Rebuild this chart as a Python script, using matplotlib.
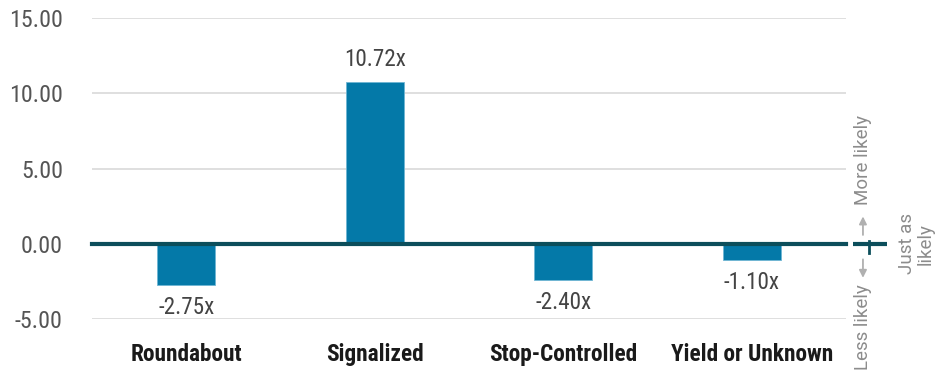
import matplotlib
matplotlib.use('Agg')
import matplotlib.pyplot as plt
from matplotlib.font_manager import fontManager

# crash-type odds by intersection control
categories = ['Roundabout', 'Signalized', 'Stop-Controlled', 'Yield or Unknown']
values = [-2.75, 10.72, -2.40, -1.10]
yticks = [-5, 0, 5, 10, 15]

# prefer a narrow face if one is around, else plain Roboto
installed = sorted({f.name for f in fontManager.ttflist})
narrow = [n for n in installed if 'Condensed' in n or 'Narrow' in n]
narrow.sort(key=lambda n: (0 if 'Roboto' in n else 1 if 'Liberation' in n else 2, n))
main_font = narrow[:1] + ['Roboto', 'DejaVu Sans']
side_font = ['Roboto', 'DejaVu Sans']
scale = 1.15 if narrow else 1.0

BAR = '#0479a8'
ZERO = '#0c4e5b'
GRID = '#d9d9d9'
SIDE = '#8c8c8c'

fig = plt.figure(figsize=(9.44, 3.76), dpi=100)
ax = fig.add_axes([92 / 944, 1 - 319 / 376, 754 / 944, 301 / 376])

x = range(len(categories))
ax.bar(x, values, width=0.31, color=BAR, edgecolor='#6fb6d3', linewidth=0.6, zorder=2)

for xi, v in zip(x, values):
    up = v >= 0
    ax.annotate(f'{v:.2f}x', (xi, v), xytext=(0, 8 if up else -8), textcoords='offset points',
                ha='center', va='bottom' if up else 'top', fontsize=14.5 * scale,
                color='#444444', family=main_font)

ax.set_xlim(-0.5, len(categories) - 0.5)
ax.set_ylim(-5, 15)
ax.set_yticks(yticks)
ax.set_yticklabels([f'{t:.2f}' for t in yticks], family=main_font, fontsize=15 * scale,
                   color='#555555')
ax.set_xticks(list(x))
ax.set_xticklabels(categories, family=main_font, fontsize=14.6 * scale, color='#1a1a1a',
                   fontweight='bold')
ax.tick_params(axis='both', length=0)
ax.tick_params(axis='y', pad=21)
ax.tick_params(axis='x', pad=17)

ax.grid(axis='y', color=GRID, linewidth=1.2, zorder=0)
ax.axhline(0, color=ZERO, linewidth=3, zorder=3, clip_on=False)
for s in ax.spines.values():
    s.set_visible(False)

# side legend: less / just as / more likely
tr = ax.get_yaxis_transform()
ax.plot([1.009, 1.054], [0, 0], transform=tr, color=ZERO, linewidth=3, clip_on=False,
        solid_capstyle='butt')
ax.plot([1.031, 1.031], [-0.6, 0.2], transform=tr, color=ZERO, linewidth=2, clip_on=False)
ax.annotate('', xy=(1.0225, 2.0), xytext=(1.0225, 0.4), xycoords=tr, textcoords=tr,
            arrowprops=dict(arrowstyle='-|>', color='#b0b0b0', lw=1.3, mutation_scale=11),
            annotation_clip=False)
ax.annotate('', xy=(1.0225, -2.45), xytext=(1.0225, -0.85), xycoords=tr, textcoords=tr,
            arrowprops=dict(arrowstyle='-|>', color='#b0b0b0', lw=1.3, mutation_scale=11),
            annotation_clip=False)
ax.text(1.0225, 2.6, 'More likely', transform=tr, rotation=90, ha='center', va='bottom',
        fontsize=13.5, color=SIDE, family=side_font, clip_on=False)
ax.text(1.0225, -2.7, 'Less likely', transform=tr, rotation=90, ha='center', va='top',
        fontsize=13.5, color=SIDE, family=side_font, clip_on=False)
ax.text(1.093, 0, 'Just as\nlikely', transform=tr, rotation=90, ha='center', va='center',
        multialignment='center', linespacing=1.05, fontsize=13.5, color=SIDE,
        family=side_font, clip_on=False)

fig.savefig('out.png', dpi=100)
